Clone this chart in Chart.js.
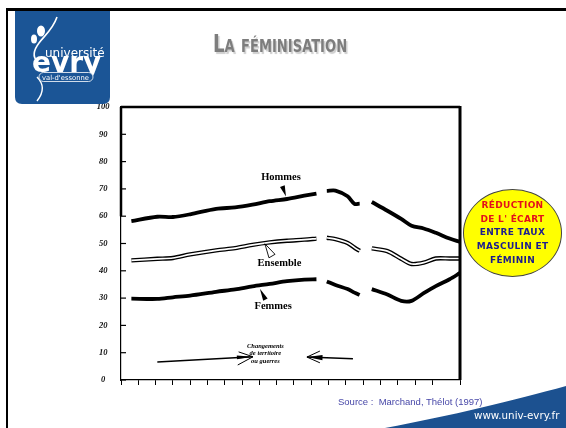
<!DOCTYPE html>
<html>
<head>
<meta charset="utf-8">
<script src="https://cdn.jsdelivr.net/npm/chart.js@4.4.0/dist/chart.umd.min.js"></script>
<style>
  body { margin: 0; background: #fff; }
  #page { position: relative; width: 566px; height: 428px; overflow: hidden; background: #fff; }
  #chart { position: absolute; left: 0; top: 0; }
  .abs { position: absolute; }
  #title {
    left: 160px; top: 29px; width: 240px; text-align: center;
    font-family: "DejaVu Sans Condensed", "DejaVu Sans"; font-weight: bold;
    font-size: 25px; font-variant: small-caps; color: #7d7d7d;
    text-shadow: 2px 2px 1px #cfcfcf; transform: scaleX(0.81); white-space: nowrap;
  }
  #bulle {
    left: 463px; top: 189px; width: 99px; height: 88px; border-radius: 50%;
    background: #ffff00; border: 1.5px solid #444; text-align: center;
    font-family: "DejaVu Sans"; font-weight: bold; font-size: 9px; line-height: 13.7px;
    padding-top: 9px; box-sizing: border-box; letter-spacing: 0.3px;
  }
  #bulle .r { color: #e3101b; }
  #bulle .b { color: #1d1d8e; }
  #source {
    left: 338px; top: 396px; font-family: "Liberation Sans Narrow", "Liberation Sans";
    font-size: 9.5px; color: #4848a8; white-space: pre;
  }
  #url {
    left: 474px; top: 409px; font-family: "DejaVu Sans"; font-size: 10.3px; color: #fff;
  }
</style>
</head>
<body>
<div id="page">
  <canvas id="chart" width="566" height="428"></canvas>

  <div class="abs" style="left:6px;top:8px;width:560px;height:3px;background:#000"></div>
  <div class="abs" style="left:6px;top:8px;width:2px;height:420px;background:#000"></div>

  <svg class="abs" style="left:15px;top:11px" width="95" height="94">
    <path d="M0 0 H95 V86 Q95 93 88 93 H7 Q0 93 0 86 Z" fill="#1b5596"/>
    <path d="M42 6 C38 18 30 24 24 32 C18 40 18 46 22 50" stroke="#fff" stroke-width="1.6" fill="none"/>
    <path d="M22 66 C28 72 30 80 22 90" stroke="#fff" stroke-width="1.4" fill="none"/>
    <ellipse cx="26" cy="20" rx="4" ry="5.5" fill="#fff"/>
    <ellipse cx="19" cy="28" rx="3" ry="4.5" fill="#fff"/>
    <text x="30" y="46" fill="#fff" font-family="DejaVu Sans" font-size="12">université</text>
    <text x="17" y="61" fill="#fff" font-family="DejaVu Sans" font-weight="bold" font-size="28">evry</text>
    <rect x="24" y="61.5" width="54" height="9" rx="4.5" fill="#1b5596" stroke="#fff" stroke-width="0.8"/>
    <text x="27" y="68.5" fill="#fff" font-family="DejaVu Sans" font-size="6.8">val-d'essonne</text>
  </svg>

  <div id="title" class="abs">La féminisation</div>

  <div id="bulle" class="abs">
    <div class="r">RÉDUCTION</div>
    <div class="r">DE L' ÉCART</div>
    <div class="b">ENTRE TAUX</div>
    <div class="b">MASCULIN ET</div>
    <div class="b">FÉMININ</div>
  </div>

  <div id="source" class="abs">Source :  Marchand, Thélot (1997)</div>

  <svg class="abs" style="left:0;top:380px" width="566" height="48">
    <path d="M385 48 C450 36 515 20 566 6 L566 48 Z" fill="#1c5190"/>
  </svg>
  <div id="url" class="abs">www.univ-evry.fr</div>
</div>

<script>
// annees et taux d'activite (%)
const years = [1806, 1821, 1830, 1840, 1855, 1866, 1876, 1886, 1896, 1906, 1913, 1916, 1919, 1924, 1931, 1935, 1938, 1942, 1945, 1954, 1962, 1968, 1975, 1982, 1990, 1996];
const hommes = [58.2, 59.8, 59.7, 60.7, 62.7, 63.2, 64.2, 65.5, 66.3, 67.5, 68.3, null, 69.3, 69.4, 67.3, 64.5, 64.6, null, 65.2, 62.0, 59.0, 56.5, 55.5, 53.9, 51.8, 50.6];
const ensemble = [43.8, 44.4, 44.7, 46.0, 47.5, 48.3, 49.5, 50.4, 51.0, 51.4, 51.8, null, 52.1, 51.6, 50.2, 48.5, 47.3, null, 48.2, 47.2, 44.4, 42.5, 43.0, 44.5, 44.5, 44.5];
const femmes = [29.8, 29.7, 30.3, 30.9, 32.3, 33.2, 34.3, 35.2, 36.2, 36.8, 36.9, null, 36.1, 34.8, 33.3, 32.0, 31.2, null, 33.3, 31.3, 29.0, 29.0, 31.8, 34.4, 36.9, 39.2];
const yTicks = [0, 10, 20, 30, 40, 50, 60, 70, 80, 90, 100];

function triangle(ctx, tip, base, half, fill) {
  const dx = tip[0] - base[0], dy = tip[1] - base[1];
  const len = Math.hypot(dx, dy);
  const nx = -dy / len * half, ny = dx / len * half;
  ctx.beginPath();
  ctx.moveTo(tip[0], tip[1]);
  ctx.lineTo(base[0] + nx, base[1] + ny);
  ctx.lineTo(base[0] - nx, base[1] - ny);
  ctx.closePath();
  if (fill) ctx.fill(); else ctx.stroke();
}

// cadre, graduations et annotations du graphique scanne
const decor = {
  id: 'decor',
  afterDraw(chart) {
    const ctx = chart.ctx;
    const x = chart.scales.x, y = chart.scales.y;
    const a = chart.chartArea;
    const px = v => x.getPixelForValue(v), py = v => y.getPixelForValue(v);
    ctx.save();
    ctx.strokeStyle = '#000';
    ctx.fillStyle = '#000';

    ctx.lineWidth = 2.5;
    ctx.beginPath();
    ctx.moveTo(a.left, a.top); ctx.lineTo(a.right, a.top);
    ctx.moveTo(a.left, a.top); ctx.lineTo(a.left, py(60));
    ctx.stroke();
    ctx.lineWidth = 3;
    ctx.beginPath();
    ctx.moveTo(a.right, a.top - 1); ctx.lineTo(a.right, a.bottom);
    ctx.stroke();

    ctx.lineWidth = 1.2;
    yTicks.forEach(t => {
      ctx.beginPath();
      ctx.moveTo(a.left, py(t)); ctx.lineTo(a.left + 5, py(t));
      ctx.stroke();
    });

    // etiquettes des courbes
    ctx.font = 'bold 10.5px "Liberation Serif"';
    ctx.textAlign = 'center';
    ctx.textBaseline = 'middle';
    ctx.fillText('Hommes', px(1892.5), py(74.3));
    ctx.fillText('Ensemble', px(1891.6), py(42.9));
    ctx.fillText('Femmes', px(1888), py(27));

    triangle(ctx, [px(1895.4), py(67.2)], [px(1893.3), py(71)], 2.5, true);
    ctx.lineWidth = 0.9;
    triangle(ctx, [px(1883.2), py(49.9)], [px(1887.3), py(45.4)], 3.5, false);
    triangle(ctx, [px(1880.3), py(33.4)], [px(1883.5), py(29.4)], 2.5, true);

    // changements de territoire ou guerres
    ctx.font = 'italic bold 6.5px "Liberation Serif"';
    ctx.fillText('Changements', px(1883.5), py(12.3));
    ctx.fillText('de territoire', px(1883.5), py(9.6));
    ctx.fillText('ou guerres', px(1883.5), py(6.9));

    ctx.lineWidth = 1.4;
    ctx.beginPath();
    ctx.moveTo(px(1821), py(6.6)); ctx.lineTo(px(1876.3), py(8.5));
    ctx.moveTo(px(1934.1), py(7.8)); ctx.lineTo(px(1907.5), py(8.4));
    ctx.stroke();
    ctx.lineWidth = 1;
    ctx.beginPath();
    ctx.moveTo(px(1876.3), py(8.5)); ctx.lineTo(px(1868), py(10.3));
    ctx.moveTo(px(1876.3), py(8.5)); ctx.lineTo(px(1867.5), py(5.5));
    ctx.stroke();
    triangle(ctx, [px(1876.3), py(8.5)], [px(1867), py(8.3)], 1.8, true);
    triangle(ctx, [px(1907.5), py(8.4)], [px(1916.5), py(8.2)], 2.6, true);
    ctx.beginPath();
    ctx.moveTo(px(1907.5), py(8.4)); ctx.lineTo(px(1915), py(10.6));
    ctx.moveTo(px(1907.5), py(8.4)); ctx.lineTo(px(1915), py(6.3));
    ctx.stroke();
    ctx.restore();
  }
};

const line = (data, color, width) => ({
  data: data,
  borderColor: color,
  borderWidth: width,
  pointRadius: 0,
  tension: 0.3,
  spanGaps: false,
  fill: false
});

new Chart(document.getElementById('chart'), {
  type: 'line',
  data: {
    labels: years,
    datasets: [
      line(hommes, '#000', 3.8),
      line(ensemble, '#fff', 1.7),
      line(ensemble, '#000', 4.4),
      line(femmes, '#000', 3.8)
    ]
  },
  options: {
    responsive: false,
    animation: false,
    devicePixelRatio: 1,
    layout: { padding: { left: 91, top: 107, right: 106, bottom: 43 } },
    plugins: { legend: { display: false }, tooltip: { enabled: false } },
    scales: {
      x: {
        type: 'linear',
        min: 1800,
        max: 1996,
        ticks: { display: false, stepSize: 10 },
        grid: { drawOnChartArea: false, drawTicks: true, tickLength: 5, color: '#000', lineWidth: 1 },
        border: { color: '#000', width: 1.2 },
        afterFit: s => { s.height = 5; }
      },
      y: {
        min: 0,
        max: 100,
        afterBuildTicks: s => { s.ticks = yTicks.map(v => ({ value: v })); },
        ticks: {
          padding: 11.5,
          crossAlign: 'center',
          color: '#111',
          font: { family: 'Liberation Serif', style: 'italic', weight: 'bold', size: 8.5 }
        },
        grid: { drawOnChartArea: false, drawTicks: false },
        border: { color: '#000', width: 1.2 },
        afterFit: s => { s.width = 30; }
      }
    }
  },
  plugins: [decor]
});
</script>
</body>
</html>
